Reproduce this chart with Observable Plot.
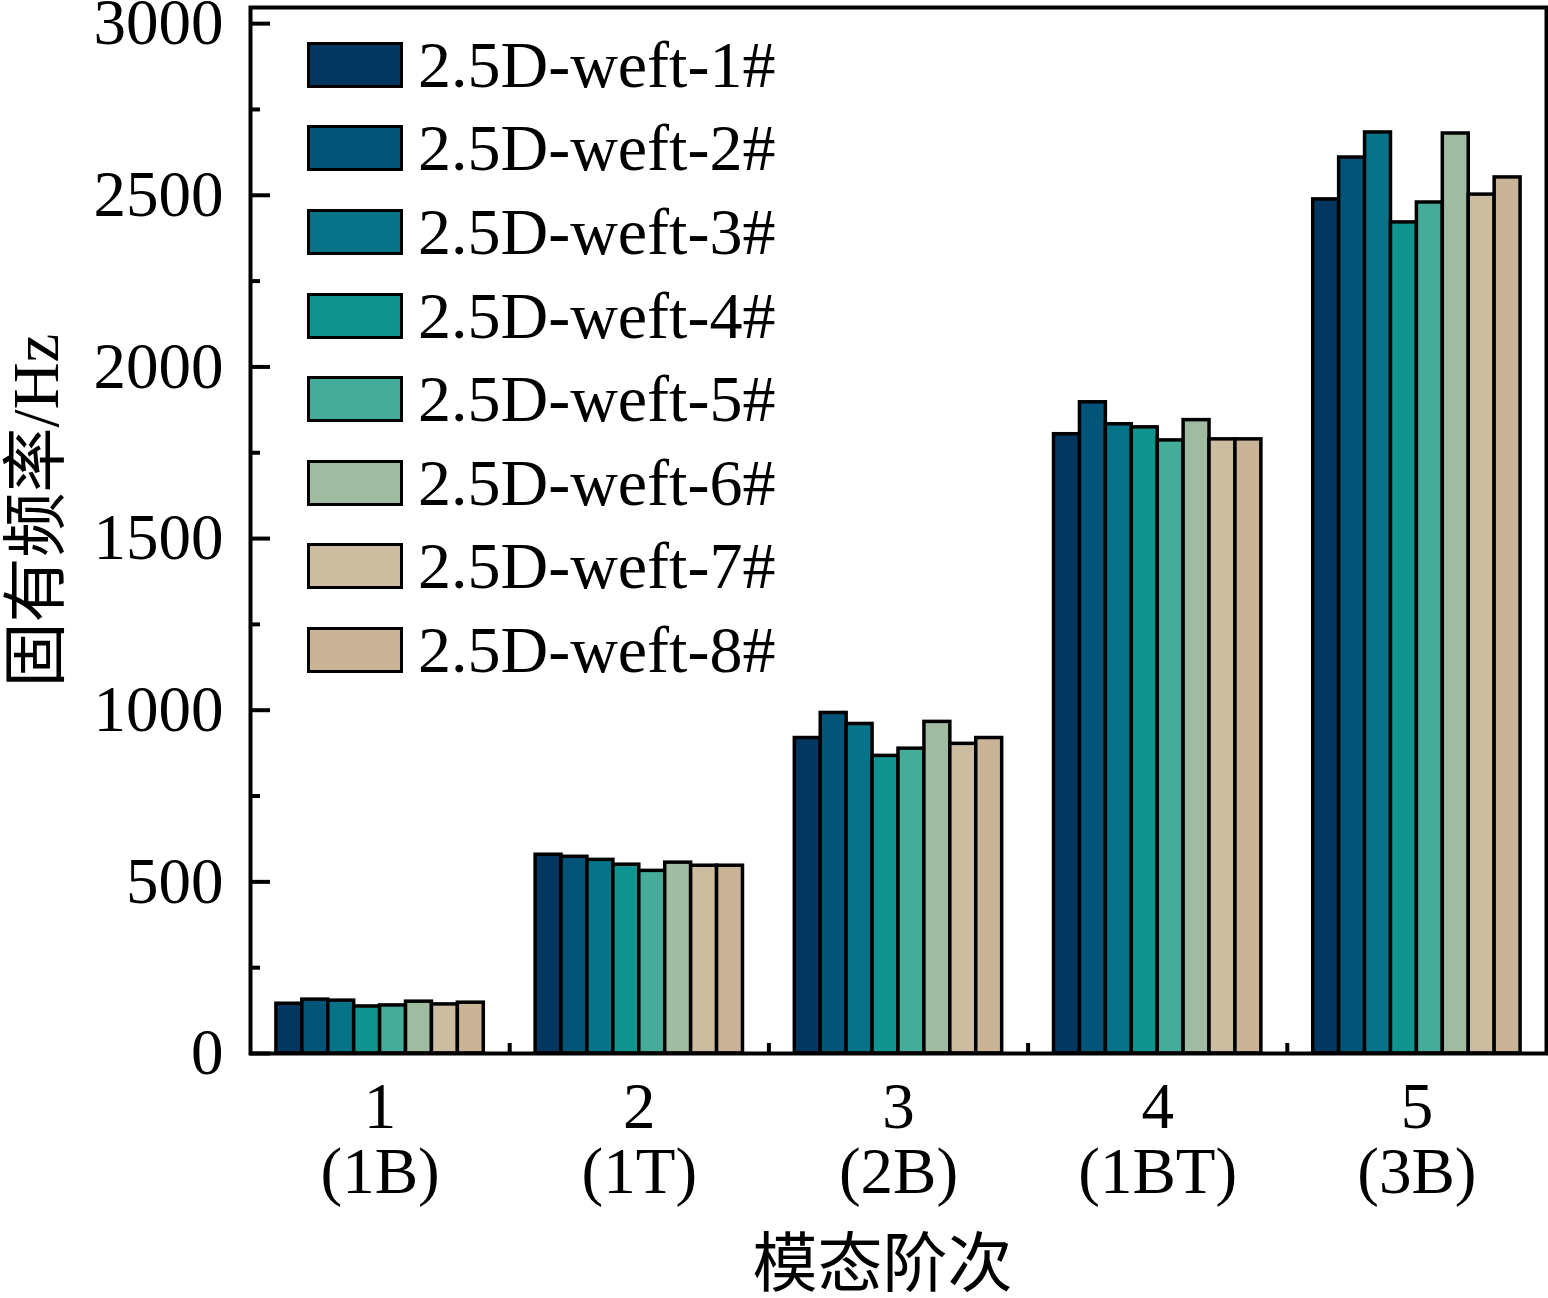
<!DOCTYPE html>
<html>
<head>
<meta charset="utf-8">
<script src="https://cdn.jsdelivr.net/npm/d3@7"></script>
<script src="https://cdn.jsdelivr.net/npm/@observablehq/plot@0.6"></script>
<style>
  html, body { margin: 0; padding: 0; background: #fff; }
  #wrap { position: relative; width: 1548px; height: 1298px; }
  #legend { position: absolute; left: 307px; top: 23px; font-family: "Liberation Serif", "Times New Roman", serif; font-size: 66px; color: #000; }
  .row { display: flex; align-items: center; height: 83.6px; }
  .sw { width: 96px; height: 46px; box-sizing: border-box; border: 3.5px solid #000; }
  .lab { margin-left: 15px; white-space: nowrap; }
</style>
</head>
<body>
<div id="wrap"><div id="legend"></div></div>
<script>
// ---- data ----
const series = ["2.5D-weft-1#", "2.5D-weft-2#", "2.5D-weft-3#", "2.5D-weft-4#",
                "2.5D-weft-5#", "2.5D-weft-6#", "2.5D-weft-7#", "2.5D-weft-8#"];
const modes = [1, 2, 3, 4, 5];
const modeNames = ["1B", "1T", "2B", "1BT", "3B"];
const weft1 = [145, 579, 919, 1804, 2488];
const weft2 = [157, 573, 992, 1897, 2610];
const weft3 = [154, 564, 960, 1833, 2683];
const weft4 = [137, 550, 867, 1824, 2421];
const weft5 = [140, 532, 888, 1786, 2479];
const weft6 = [151, 556, 966, 1845, 2680];
const weft7 = [143, 547, 902, 1789, 2502];
const weft8 = [148, 547, 919, 1789, 2552];
const yTicks = [0, 500, 1000, 1500, 2000, 2500, 3000];
const yMinor = [250, 750, 1250, 1750, 2250, 2750];
const colors = ["#03375F", "#035479", "#077389", "#11948F", "#45AC9A", "#A0BBA2", "#CDBDA0", "#C9B497"];

const all = [weft1, weft2, weft3, weft4, weft5, weft6, weft7, weft8];
const data = [];
all.forEach((vals, j) => vals.forEach((v, i) => data.push({mode: modes[i], j, series: series[j], value: v})));

const serif = "Liberation Serif, Times New Roman, serif";
const mixed = "Liberation Serif, Noto Sans CJK SC, serif";
const n = series.length, groupW = 0.8, bw = groupW / n;

const chart = Plot.plot({
  width: 1548,
  height: 1298,
  marginLeft: 250,
  marginRight: 2,
  marginTop: 7,
  marginBottom: 245,
  style: {fontFamily: serif, background: "#fff", color: "#000"},
  x: {type: "linear", domain: [0.5, 5.5], axis: null},
  y: {domain: [0, 3047], axis: null},
  color: {domain: series, range: colors},
  marks: [
    Plot.rect(data, {
      x1: d => d.mode - groupW / 2 + bw * d.j,
      x2: d => d.mode - groupW / 2 + bw * (d.j + 1),
      y1: 0,
      y2: "value",
      fill: "series",
      stroke: "#000",
      strokeWidth: 3.5
    }),
    Plot.axisY({ticks: yTicks, tickSize: -20, tickPadding: 47, fontSize: 65, fontFamily: serif, strokeWidth: 4,
      tickFormat: d => String(d), label: null}),
    Plot.axisY({ticks: yMinor, tickSize: -10, tickFormat: () => "", strokeWidth: 4, label: null}),
    Plot.axisX({ticks: modes, tickSize: 0, tickPadding: 29, fontSize: 65, fontFamily: serif, lineHeight: 0.99,
      tickFormat: d => `${d}\n(${modeNames[d - 1]})`, label: null}),
    Plot.axisX({ticks: [1.5, 2.5, 3.5, 4.5], tickSize: -10, tickFormat: () => "", strokeWidth: 4, label: null}),
    Plot.text(["模态阶次"], {frameAnchor: "bottom", dy: 232, dx: -16, fontSize: 65, fontFamily: mixed}),
    Plot.text(["固有频率/Hz"], {frameAnchor: "left", textAnchor: "middle", rotate: -90, dx: -213, dy: -20, fontSize: 65, fontFamily: mixed}),
    Plot.frame({strokeWidth: 4})
  ]
});
document.getElementById("wrap").prepend(chart);

const legend = document.getElementById("legend");
series.forEach((s, j) => {
  const row = document.createElement("div");
  row.className = "row";
  const sw = document.createElement("div");
  sw.className = "sw";
  sw.style.background = colors[j];
  const lab = document.createElement("span");
  lab.className = "lab";
  lab.textContent = s;
  row.append(sw, lab);
  legend.append(row);
});
</script>
</body>
</html>
